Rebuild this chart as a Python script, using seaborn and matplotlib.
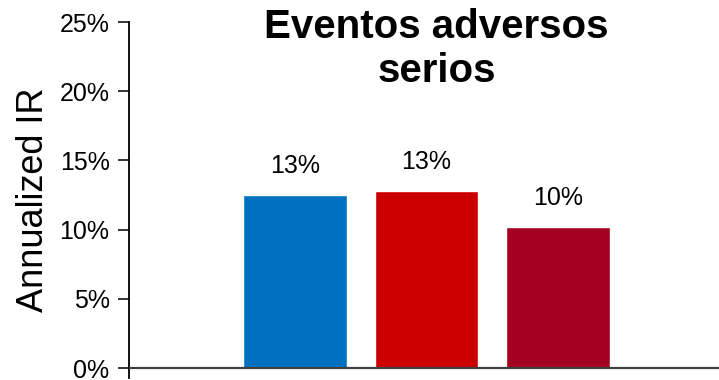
import matplotlib
matplotlib.use("Agg")
import matplotlib.pyplot as plt
import seaborn as sns
import pandas as pd
from matplotlib.ticker import FuncFormatter

categories = ["Grupo 1", "Grupo 2", "Grupo 3"]
values = [12.5, 12.8, 10.2]
value_labels = ["13%", "13%", "10%"]
colors = ["#0070C0", "#CC0000", "#A50021"]
y_ticks = [0, 5, 10, 15, 20, 25]
title = "Eventos adversos\nserios"
y_label = "Annualized IR"

sns.set_theme(style="white")
plt.rcParams['font.family'] = ['Liberation Sans', 'DejaVu Sans']
plt.rcParams['text.color'] = 'black'
plt.rcParams['axes.labelcolor'] = 'black'
plt.rcParams['ytick.color'] = 'black'

df = pd.DataFrame({"cat": categories, "val": values})

fig = plt.figure(figsize=(7.19, 3.80), dpi=100)
ax = fig.add_axes([129/719, 2/380, 1 - 129/719, (378 - 22)/380])

sns.barplot(data=df, x="cat", y="val", hue="cat", palette=colors,
            width=0.79, legend=False, ax=ax, saturation=1)

ax.set_ylim(-0.72, 25)
ax.set_xlim(-1.262, 3.224)
ax.set_yticks(y_ticks)
ax.yaxis.set_major_formatter(FuncFormatter(lambda v, p: f"{v:.0f}%"))
ax.tick_params(axis='y', which='major', left=True, length=8, width=1.1,
               labelsize=18, color='black', labelcolor='black', pad=6,
               direction='out')
ax.set_xticks([])
ax.set_xlabel("")
ax.set_ylabel(y_label, fontsize=26, labelpad=6, color='black')

for s in ["top", "right", "bottom"]:
    ax.spines[s].set_visible(False)
ax.spines["left"].set_color("black")
ax.spines["left"].set_linewidth(1.3)
ax.axhline(0, color="#404040", lw=1.6, zorder=3)

for i, (v, lab) in enumerate(zip(values, value_labels)):
    ax.annotate(lab, (i, v), xytext=(0, 12), textcoords="offset points",
                ha="center", va="bottom", fontsize=18, color='black')

fig.text(436.5/719, 1 - 8/380, title, ha="center", va="top",
         fontsize=29, fontweight="bold", linespacing=1.2, color='black')

fig.savefig("out.png", dpi=100)
